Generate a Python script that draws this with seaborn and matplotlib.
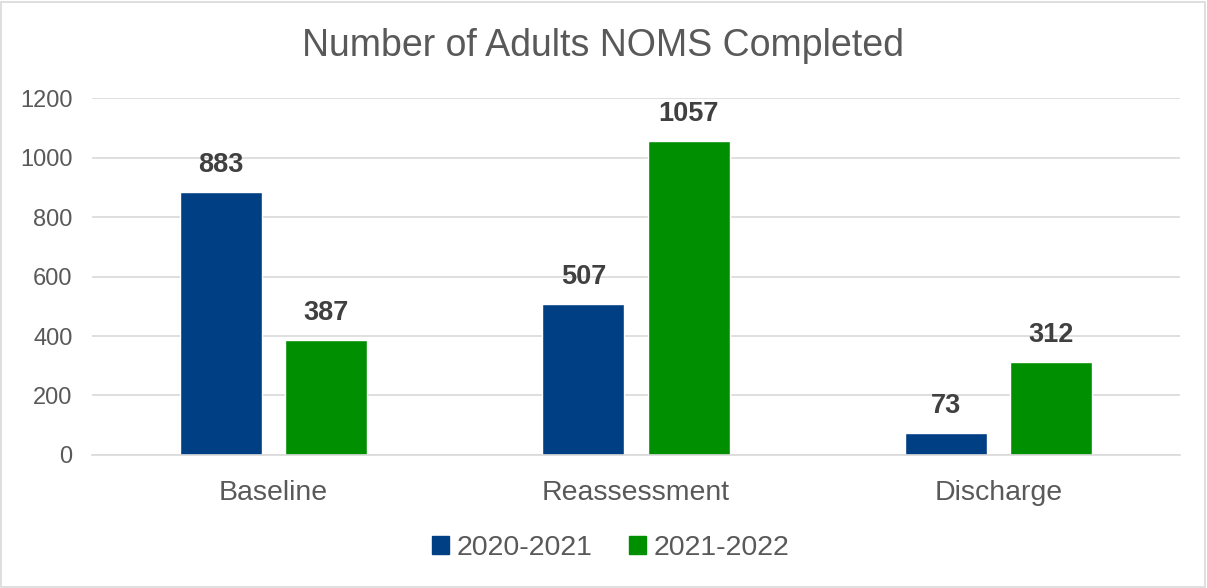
import matplotlib
matplotlib.use("Agg")
import matplotlib.pyplot as plt
import seaborn as sns
import pandas as pd
from matplotlib.patches import Rectangle

categories = ["Baseline", "Reassessment", "Discharge"]
periods = ["2020-2021", "2021-2022"]
values_2020_2021 = [883, 507, 73]
values_2021_2022 = [387, 1057, 312]
y_ticks = [0, 200, 400, 600, 800, 1000, 1200]

df = pd.DataFrame({
    "Stage": categories * 2,
    "Period": [periods[0]] * 3 + [periods[1]] * 3,
    "Count": values_2020_2021 + values_2021_2022,
})

sns.set_theme(style="white")
plt.rcParams["font.family"] = ["Liberation Sans", "DejaVu Sans"]

text_grey = "#595959"
palette = {"2020-2021": "#003F84", "2021-2022": "#008F00"}

fig = plt.figure(figsize=(12.07, 5.88), dpi=100)
ax = fig.add_axes([0.0762, 0.2262, 0.9014, 0.6071])

sns.barplot(data=df, x="Stage", y="Count", hue="Period", order=categories,
            hue_order=periods, palette=palette, width=0.58, gap=0.22,
            saturation=1, ax=ax, legend=False)

ax.set_ylim(0, 1200)
ax.set_yticks(y_ticks)
ax.set_xlim(-0.5, 2.5)
ax.yaxis.grid(True, color="#D9D9D9", linewidth=1.2)
ax.set_axisbelow(True)
for s in ["top", "right", "left"]:
    ax.spines[s].set_visible(False)
ax.spines["bottom"].set_color("#D9D9D9")
ax.spines["bottom"].set_linewidth(1.2)
ax.tick_params(axis="y", length=0, labelsize=17, labelcolor=text_grey, pad=14)
ax.tick_params(axis="x", length=0, labelsize=20.5, labelcolor=text_grey, pad=18)
ax.set_xlabel("")
ax.set_ylabel("")

for container in ax.containers:
    ax.bar_label(container, fmt="%d", padding=10, fontsize=19.5, fontweight="bold",
                 color="#404040")

fig.suptitle("Number of Adults NOMS Completed", y=0.952, fontsize=27,
             color=text_grey)

handles = [Rectangle((0, 0), 1, 1, color=palette[p]) for p in periods]
fig.legend(handles, periods, loc="center", bbox_to_anchor=(0.506, 0.068),
           ncol=2, frameon=False, fontsize=20.5, handlelength=0.6,
           handleheight=0.6, handletextpad=0.25, columnspacing=1.3,
           labelcolor=text_grey)

fig.patches.append(Rectangle((0.001, 0.002), 0.997, 0.995, transform=fig.transFigure,
                             fill=False, edgecolor="#D9D9D9", linewidth=1.2))

fig.savefig("out.png", dpi=100, facecolor="white")
